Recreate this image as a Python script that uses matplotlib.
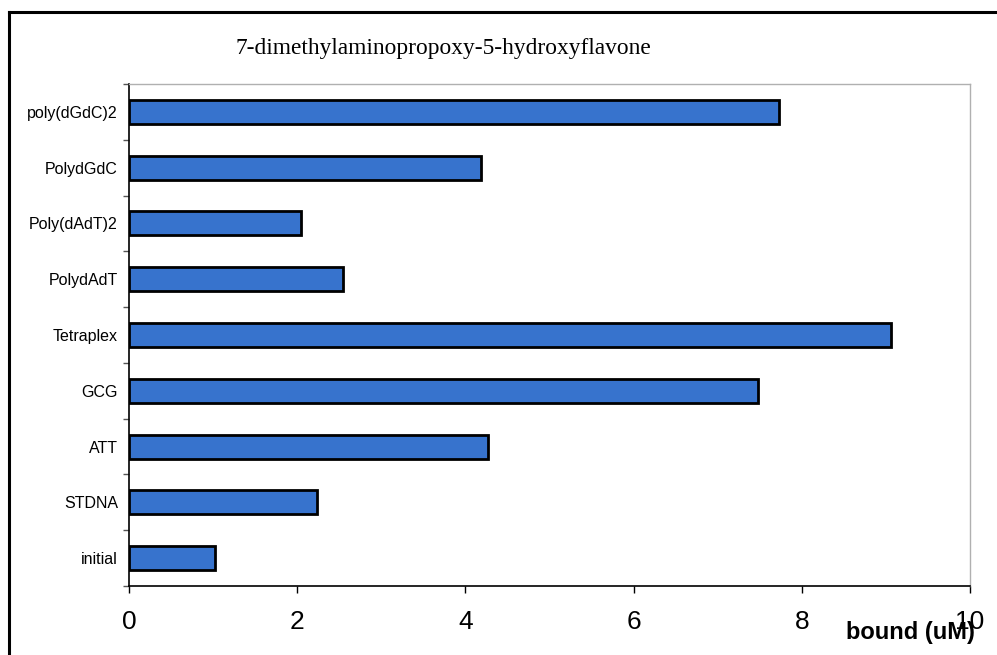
import matplotlib.pyplot as plt
from matplotlib.lines import Line2D
import numpy as np

# --- Dati ---
categorie = ['initial', 'STDNA', 'ATT', 'GCG', 'Tetraplex',
             'PolydAdT', 'Poly(dAdT)2', 'PolydGdC', 'poly(dGdC)2']
valori = [1.02, 2.24, 4.27, 7.48, 9.06, 2.55, 2.05, 4.18, 7.73]
x_ticks = [0, 2, 4, 6, 8, 10]
titolo = '7-dimethylaminopropoxy-5-hydroxyflavone'
etichetta_x = 'bound (uM)'

SANS = ['Liberation Sans', 'DejaVu Sans']
SERIF = ['Liberation Serif', 'DejaVu Serif']

fig = plt.figure(figsize=(9.97, 6.55), dpi=100)
ax = fig.add_axes([0.1294, 0.1053, 0.8435, 0.7664])

y = np.arange(len(categorie))
ax.barh(y, valori, height=0.43, color='#3773cd', edgecolor='black', linewidth=2.0)

ax.set_xlim(0, 10)
ax.set_ylim(-0.5, len(categorie) - 0.5)

ax.set_xticks(x_ticks)
ax.set_xticklabels([str(t) for t in x_ticks], family=SANS, fontsize=19)
ax.tick_params(axis='x', direction='out', length=5, width=1, pad=12, colors='black')

ax.set_yticks(y)
ax.set_yticklabels(categorie, family=SANS, fontsize=11.5)
ax.set_yticks(np.arange(-0.5, len(categorie), 1.0), minor=True)
ax.tick_params(axis='y', which='major', length=0, pad=8)
ax.tick_params(axis='y', which='minor', direction='out', length=4, width=1, color='#555555')

for lato in ['top', 'right']:
    ax.spines[lato].set_color('#b0b0b0')
    ax.spines[lato].set_linewidth(1)
ax.spines['left'].set_linewidth(1.2)
ax.spines['bottom'].set_linewidth(1.2)

fig.text(0.4443, 0.926, titolo, family=SERIF, fontsize=16.8, ha='center', va='center')
fig.text(0.978, 0.034, etichetta_x, family=SANS, fontsize=17, fontweight='bold',
         ha='right', va='center')

# cornice esterna
fig.add_artist(Line2D([0.009, 0.009], [0.0, 0.982], transform=fig.transFigure,
                      color='black', linewidth=2.2))
fig.add_artist(Line2D([0.009, 1.0], [0.982, 0.982], transform=fig.transFigure,
                      color='black', linewidth=2.2))

fig.savefig('out.png', dpi=100)
